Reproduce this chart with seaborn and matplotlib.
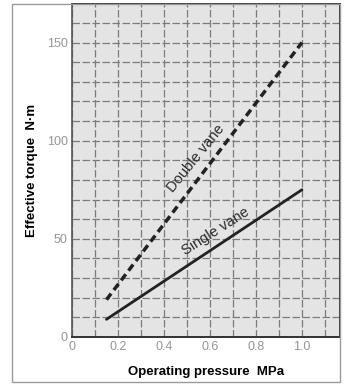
import matplotlib
matplotlib.use("Agg")
import matplotlib.pyplot as plt
import seaborn as sns
import pandas as pd
from matplotlib.patches import Rectangle
from matplotlib.ticker import MultipleLocator

# Operating pressure (MPa) at the ends of each characteristic line
pressure = [0.15, 1.0]
single_vane_torque = [9, 75]
double_vane_torque = [19, 150]

x_ticks = [0, 0.2, 0.4, 0.6, 0.8, 1.0]
x_tick_labels = ["0", "0.2", "0.4", "0.6", "0.8", "1.0"]
y_ticks = [0, 50, 100, 150]
y_tick_labels = ["0", "50", "100", "150"]

sns.set_theme(style="white")
plt.rcParams["font.family"] = ["Liberation Sans", "DejaVu Sans"]

fig = plt.figure(figsize=(3.46, 3.86), dpi=100)
ax = fig.add_axes([0.208, 0.127, 0.775, 0.862])
ax.set_facecolor("#e4e4e4")

df_single = pd.DataFrame({"p": pressure, "t": single_vane_torque})
df_double = pd.DataFrame({"p": pressure, "t": double_vane_torque})

sns.lineplot(data=df_double, x="p", y="t", ax=ax, color="#222222",
             linewidth=2.5, linestyle=(0, (2.2, 1.3)), zorder=3)
sns.lineplot(data=df_single, x="p", y="t", ax=ax, color="#222222",
             linewidth=2.0, zorder=3)

ax.set_xlim(0, 1.166)
ax.set_ylim(0, 169.5)

# Grid every 0.1 MPa and every 10 N·m
ax.xaxis.set_minor_locator(MultipleLocator(0.1))
ax.yaxis.set_minor_locator(MultipleLocator(10))
ax.grid(which="both", color="#7c7c7c", linewidth=0.9,
        linestyle=(0, (6, 2)), zorder=1)
ax.set_axisbelow(True)

ax.set_xticks(x_ticks)
ax.set_xticklabels(x_tick_labels)
ax.set_yticks(y_ticks)
ax.set_yticklabels(y_tick_labels)
ax.tick_params(axis="both", which="both", length=0, labelsize=9,
               labelcolor="#959595", pad=3)

for side in ["top", "right", "bottom"]:
    ax.spines[side].set_color("#333333")
    ax.spines[side].set_linewidth(1.4)
ax.spines["left"].set_color("#555555")
ax.spines["left"].set_linewidth(1.2)

ax.set_xlabel("Operating pressure  MPa", fontsize=9.5, fontweight="bold",
              color="black", labelpad=9)
ax.set_ylabel("Effective torque  N·m", fontsize=9.5, fontweight="bold",
              color="black", labelpad=6)

ax.text(0.54, 91, "Double vane", rotation=51, fontsize=10.5,
        color="#2a2a2a", ha="center", va="center", rotation_mode="anchor")
ax.text(0.625, 54, "Single vane", rotation=32.5, fontsize=10.5,
        color="#2a2a2a", ha="center", va="center", rotation_mode="anchor")

# Thin frame around the whole chart
fig.patches.append(Rectangle((0.036, 0.01), 0.947, 0.98, transform=fig.transFigure,
                             fill=False, edgecolor="#9a9a9a", linewidth=1.0))

fig.savefig("out.png", dpi=100)
